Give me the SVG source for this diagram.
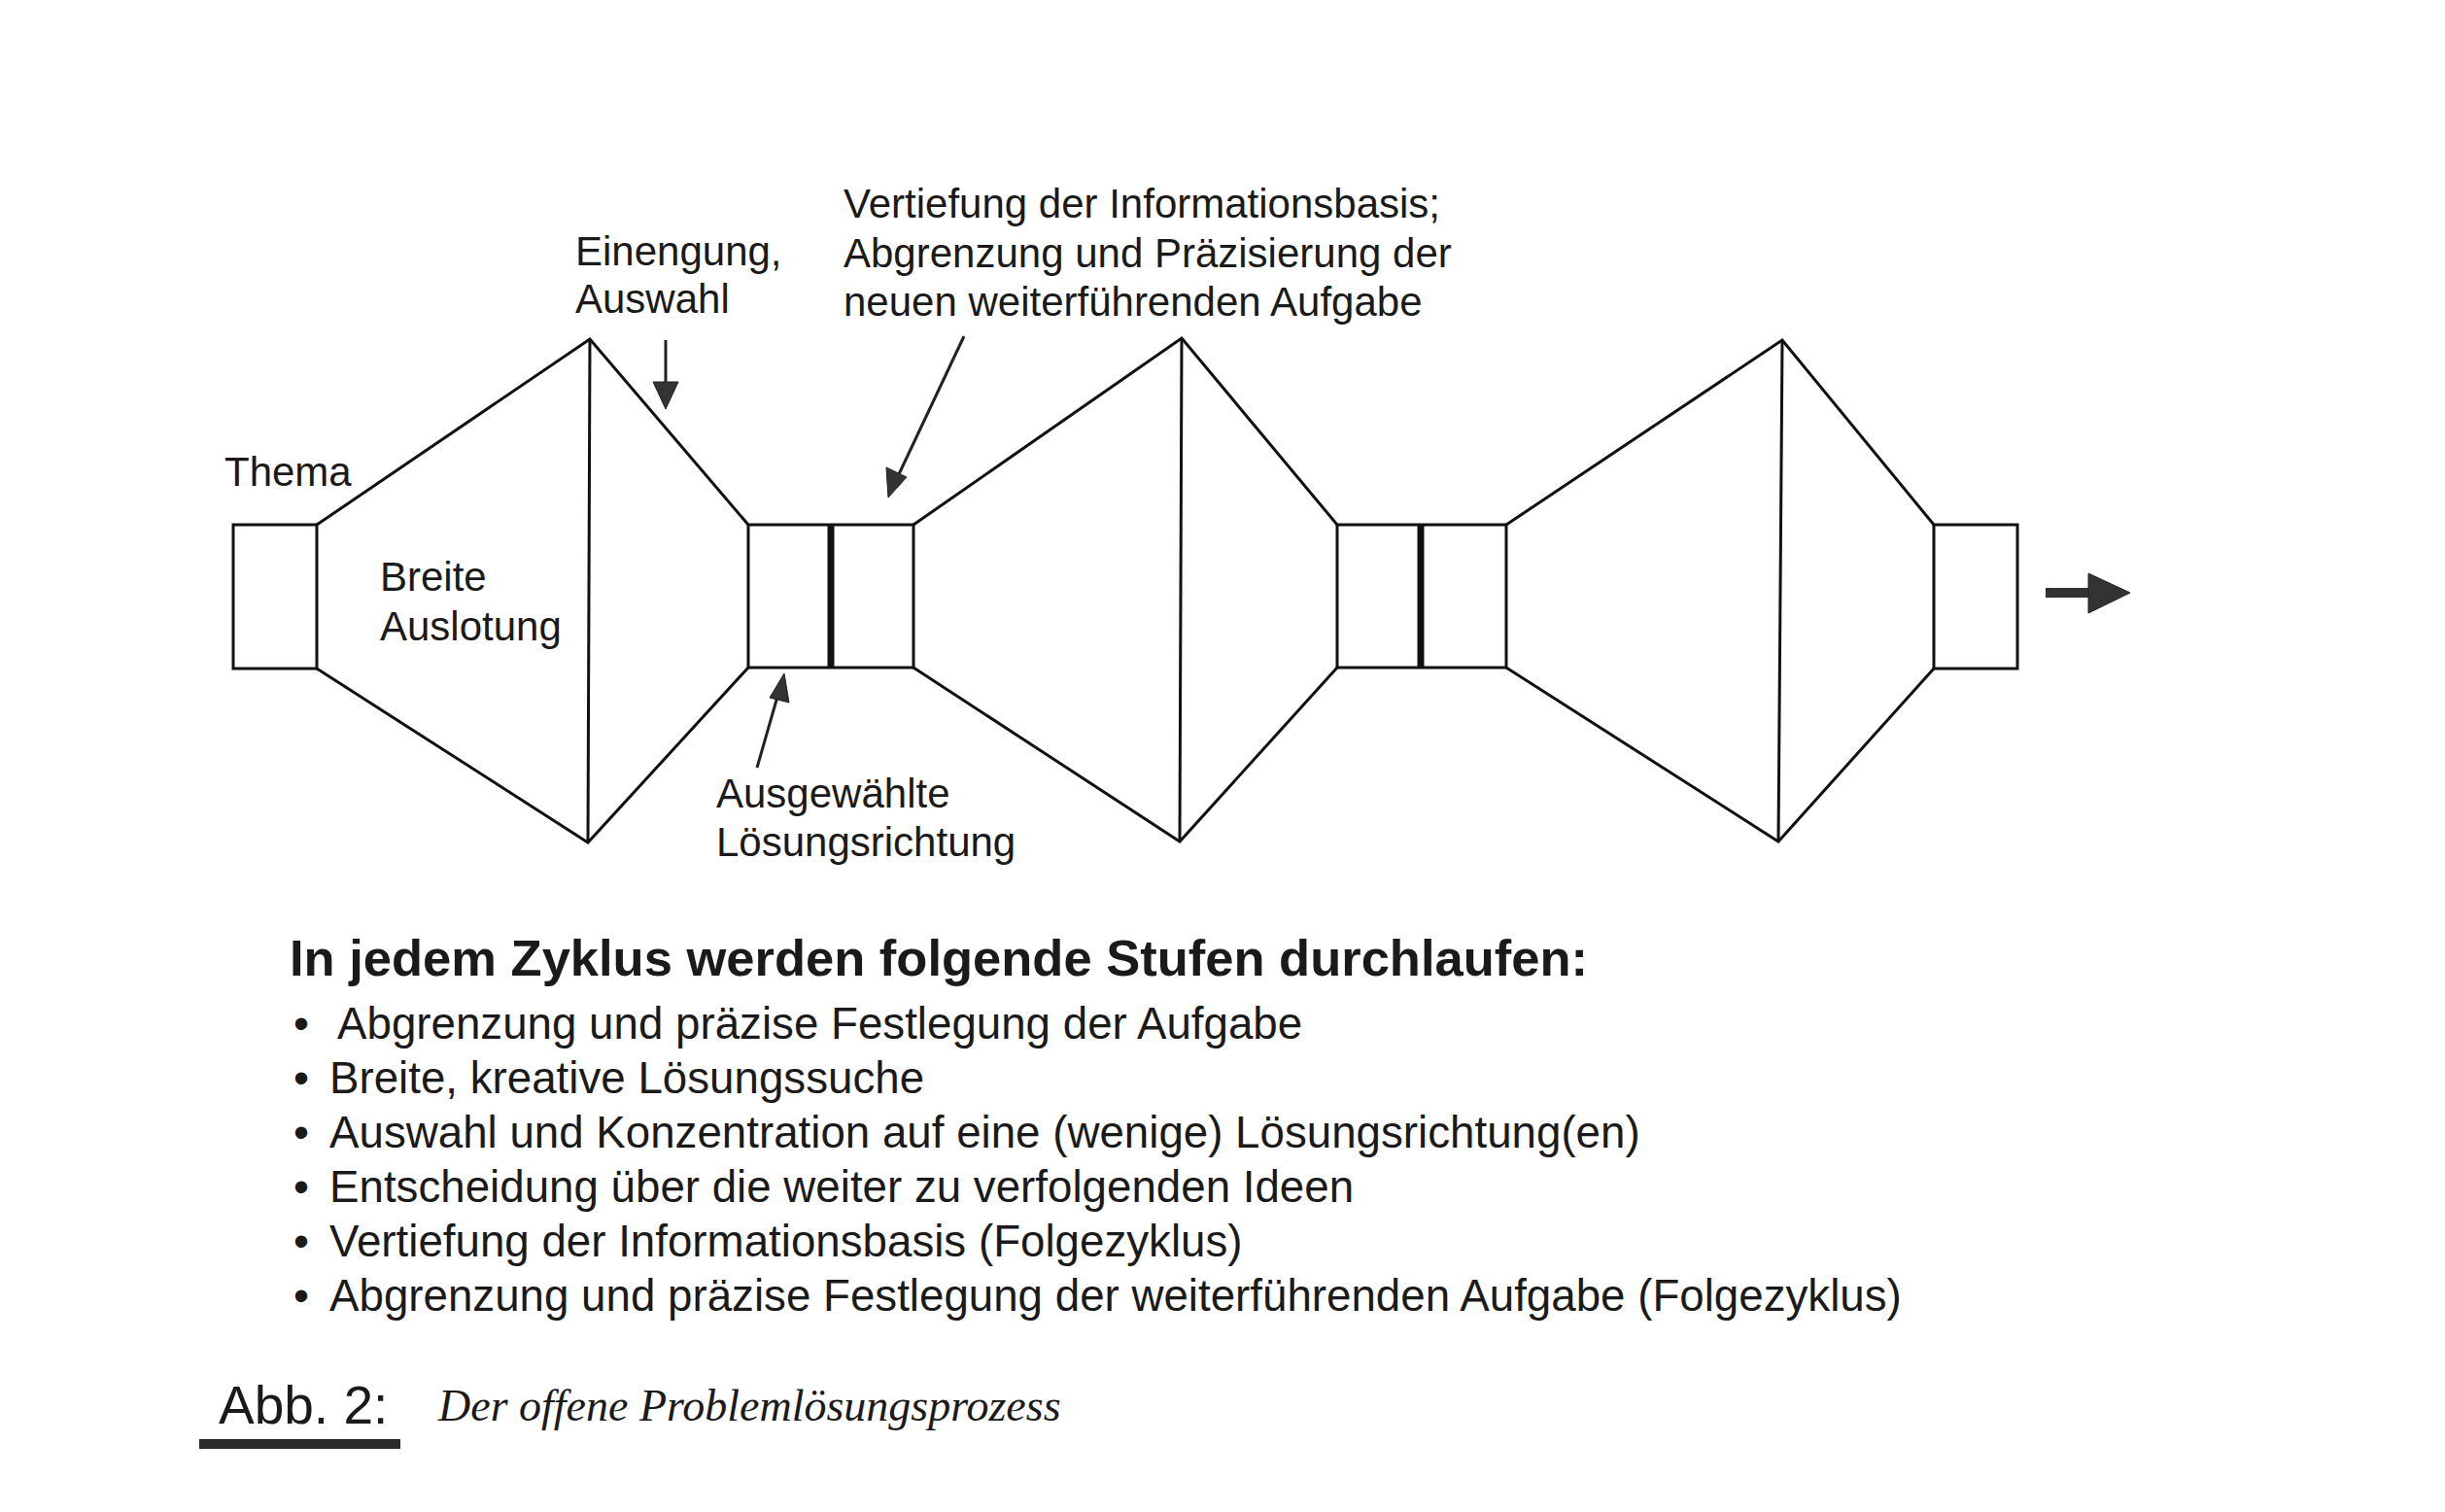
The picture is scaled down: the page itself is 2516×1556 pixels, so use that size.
<svg xmlns="http://www.w3.org/2000/svg" width="2516" height="1556" viewBox="0 0 2516 1556">
<defs>
<style>
.ln{fill:none;stroke:#111;stroke-width:3;stroke-linejoin:miter}
.sep{stroke:#111;stroke-width:7}
.lbl{font-family:"Liberation Sans",Arial,sans-serif;font-size:42px;fill:#1a1a1a}
.head{font-family:"Liberation Sans",Arial,sans-serif;font-size:52.5px;font-weight:bold;fill:#1a1a1a}
.item{font-family:"Liberation Sans",Arial,sans-serif;font-size:45.7px;fill:#1a1a1a}
.cap{font-family:"Liberation Sans",Arial,sans-serif;font-size:55px;fill:#1a1a1a}
.capi{font-family:"Liberation Serif","Times New Roman",serif;font-size:46px;font-style:italic;fill:#1a1a1a}
.arr{stroke:#222;stroke-width:3;fill:none}
.ah{fill:#333;stroke:#222;stroke-width:1}
</style>
</defs>
<rect width="2516" height="1556" fill="#fff"/>

<g id="box-thema"><rect class="ln" x="240" y="540" width="86" height="148"/></g>
<g id="funnel-1">
<polyline class="ln" points="326,540 607,349 770,540"/>
<polyline class="ln" points="326,688 605,867 770,687"/>
<line class="ln" x1="607" y1="349" x2="605" y2="867"/>
</g>
<g id="box-pair-1">
<rect class="ln" x="770" y="540" width="170" height="147"/>
<line class="sep" x1="855" y1="540" x2="855" y2="687"/>
</g>
<g id="funnel-2">
<polyline class="ln" points="940,540 1216,348 1376,540"/>
<polyline class="ln" points="940,687 1214,866 1376,687"/>
<line class="ln" x1="1216" y1="348" x2="1214" y2="866"/>
</g>
<g id="box-pair-2">
<rect class="ln" x="1376" y="540" width="174" height="147"/>
<line class="sep" x1="1462" y1="540" x2="1462" y2="687"/>
</g>
<g id="funnel-3">
<polyline class="ln" points="1550,540 1834,350 1990,540"/>
<polyline class="ln" points="1550,687 1830,866 1990,688"/>
<line class="ln" x1="1834" y1="350" x2="1830" y2="866"/>
</g>
<g id="box-end"><rect class="ln" x="1990" y="540" width="86" height="148"/></g>

<g id="connectors">
<line class="arr" x1="685" y1="350" x2="685" y2="396"/>
<polygon class="ah" points="672,393 698,393 685,421"/>
<line class="arr" x1="992" y1="346" x2="925" y2="488"/>
<polygon class="ah" points="912,481 933,491 914,512"/>
<line class="arr" x1="779" y1="790" x2="800" y2="717"/>
<polygon class="ah" points="792,718 812,723 807,693"/>
<rect x="2105" y="605" width="46" height="10" fill="#333"/>
<polygon class="ah" points="2149,590 2192,610 2149,631"/>
</g>

<g id="labels">
<text class="lbl" x="231" y="500">Thema</text>
<text class="lbl" x="391" y="608">Breite</text>
<text class="lbl" x="391" y="659">Auslotung</text>
<text class="lbl" x="592" y="273">Einengung,</text>
<text class="lbl" x="592" y="322">Auswahl</text>
<text class="lbl" x="868" y="224">Vertiefung der Informationsbasis;</text>
<text class="lbl" x="868" y="275">Abgrenzung und Präzisierung der</text>
<text class="lbl" x="868" y="325">neuen weiterführenden Aufgabe</text>
<text class="lbl" x="737" y="831">Ausgewählte</text>
<text class="lbl" x="737" y="881">Lösungsrichtung</text>
</g>

<g id="steps">
<text class="head" x="298" y="1004">In jedem Zyklus werden folgende Stufen durchlaufen:</text>
<text class="item" x="302" y="1069">•</text><text class="item" x="347" y="1069">Abgrenzung und präzise Festlegung der Aufgabe</text>
<text class="item" x="302" y="1125">•</text><text class="item" x="339" y="1125">Breite, kreative Lösungssuche</text>
<text class="item" x="302" y="1181">•</text><text class="item" x="339" y="1181">Auswahl und Konzentration auf eine (wenige) Lösungsrichtung(en)</text>
<text class="item" x="302" y="1237">•</text><text class="item" x="339" y="1237">Entscheidung über die weiter zu verfolgenden Ideen</text>
<text class="item" x="302" y="1293">•</text><text class="item" x="339" y="1293">Vertiefung der Informationsbasis (Folgezyklus)</text>
<text class="item" x="302" y="1349">•</text><text class="item" x="339" y="1349">Abgrenzung und präzise Festlegung der weiterführenden Aufgabe (Folgezyklus)</text>
</g>

<g id="caption">
<text class="cap" x="225" y="1465">Abb. 2:</text>
<rect x="205" y="1481" width="207" height="10" fill="#2a2a2a"/>
<text class="capi" x="451" y="1462">Der offene Problemlösungsprozess</text>
</g>
</svg>
